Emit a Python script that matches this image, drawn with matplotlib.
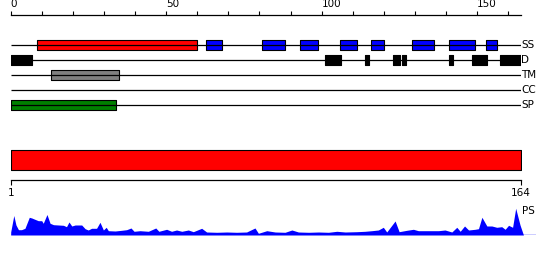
import matplotlib
matplotlib.use("Agg")
import matplotlib.pyplot as plt
from matplotlib.ticker import MultipleLocator

# Sequence length and feature tracks (start, end in residues)
seq_len = 164
track_names = ["SS", "D", "TM", "CC", "SP"]
ss_helix = [(8.6, 60)]
ss_strand = [(62.8, 68), (80.8, 88.2), (93.1, 98.9), (105.9, 111.2), (116, 120.2),
             (129.2, 136.1), (141.1, 149.4), (153, 156.5)]
disorder = [(0, 6.8), (101.2, 106.2), (114, 115.2), (123, 125.3), (125.9, 127),
            (141.1, 142.3), (148.2, 153.2), (157.2, 164)]
transmem = [(12.8, 34.8)]
coiled = []
signal = [(0, 33.9)]
domain = [(1, 164)]

# PS profile along the sequence
ps_pos = [0, 1, 1.7, 2.5, 3.5, 4.6, 6, 6.8, 7.8, 8.9, 10, 10.5, 11.7, 12.7, 13.8,
          15.4, 17, 18, 18.8, 19.7, 20.8, 22.9, 24, 25, 26.1, 27.7, 28.8, 29.9, 30.8,
          31.5, 33.7, 35.8, 37.4, 38.8, 39.8, 41.7, 44.4, 46.8, 47.8, 50.3, 51.9, 53.5,
          55.2, 57.3, 58.9, 61.6, 63.2, 66.5, 69.7, 72.9, 76.1, 78.8, 79.9, 82.6, 85.3,
          88.5, 90.7, 92.8, 96.1, 99.3, 102.5, 105.2, 107.9, 111.6, 114.3, 116.5, 118.6,
          120.2, 121.3, 124, 125.3, 127.8, 129.9, 131.5, 134.8, 138, 140.1, 142.3, 143.9,
          145, 146.4, 147.7, 149.8, 150.9, 152, 153.6, 155.2, 156.8, 158.4, 159.5, 160.6,
          161.9, 162.9, 164.3, 165.4]
ps_val = [3, 19.5, 10, 5.3, 5.3, 6.7, 17.7, 17, 15.7, 14.3, 14.3, 11.7, 20.5, 11.7, 10.3,
          10, 9.7, 8.3, 13, 9, 10, 10, 6.3, 5, 6.7, 6.7, 12.7, 5, 7.7,
          4.3, 4, 4.7, 5.3, 7, 3.7, 4.3, 3.7, 7, 3.7, 5.7, 3.7, 5,
          3.7, 5, 3.3, 6.7, 3, 2.7, 3, 2.7, 3, 7, 1.7, 4.3, 3,
          2.7, 5, 3, 2.7, 3, 2.7, 3.7, 3, 3.3, 3.7, 4.3, 5,
          7.7, 3, 14, 3.3, 4.7, 5.7, 4.3, 4.3, 4.3, 5, 3, 7.7,
          3.7, 9, 5, 5.7, 6.3, 17.7, 9, 9, 7.7, 8.3, 5.7, 9.7,
          7.7, 26.7, 10, 0]

W, H = 550, 260
fig = plt.figure(figsize=(W / 100, H / 100), dpi=100)


def px_axes(x0, y0, x1, y1):
    return fig.add_axes([x0 / W, 1 - y1 / H, (x1 - x0) / W, (y1 - y0) / H])


# Feature tracks with ruler on top
ax = px_axes(10.7, 15, 520.7, 112.5)
ax.set_xlim(0, seq_len)
ax.set_ylim(4.5, -2)
rows = range(len(track_names))
ax.hlines(rows, 0, seq_len, color="black", lw=0.9)
box_h = 0.667
tracks = [
    (0, ss_helix, "red"), (0, ss_strand, "blue"), (1, disorder, "black"),
    (2, transmem, "gray"), (3, coiled, "gold"), (4, signal, "green"),
]
for row, segs, col in tracks:
    if segs:
        ax.broken_barh([(s, e - s) for s, e in segs], (row - box_h / 2, box_h),
                       facecolors=col, edgecolor="black", lw=0.8)
for row, name in zip(rows, track_names):
    ax.text(seq_len + 0.2, row, name, ha="left", va="center", fontsize=7.5, clip_on=False)

for s in ["left", "right", "bottom"]:
    ax.spines[s].set_visible(False)
ax.spines["top"].set_linewidth(0.9)
ax.xaxis.set_major_locator(MultipleLocator(50))
ax.xaxis.set_minor_locator(MultipleLocator(10))
ax.tick_params(axis="x", which="both", top=True, bottom=False, labeltop=True,
               labelbottom=False, direction="out", length=3.1, width=0.8, pad=1,
               labelsize=7.5)
ax.set_yticks([])
for lab in ax.get_xticklabels():
    lab.set_ha("left")

# Domain bar with sequence ruler below
ax2 = px_axes(10.7, 148, 520.7, 180)
ax2.set_xlim(1, seq_len)
ax2.set_ylim(0, 1)
ax2.broken_barh([(s, e - s) for s, e in domain], (10 / 32, 20 / 32),
                facecolors="red", edgecolor="black", lw=0.8)
for s in ["left", "right", "top"]:
    ax2.spines[s].set_visible(False)
ax2.spines["bottom"].set_linewidth(0.9)
ax2.set_xticks([1, seq_len])
ax2.tick_params(axis="x", direction="out", length=3.6, width=0.8, pad=2.5, labelsize=7.5)
ax2.set_yticks([])

# PS profile
ax3 = px_axes(10.7, 208, 536, 235)
ax3.set_xlim(0, (536 - 10.7) / 3.1)
ax3.set_ylim(0, 27)
ax3.fill_between(ps_pos, ps_val, color="blue", lw=0)
ax3.axhline(0, color="blue", lw=1)
ax3.text(164.8, 24, "PS", ha="left", va="center", fontsize=7.5, clip_on=False)
ax3.axis("off")

fig.savefig("out.png", dpi=100)
